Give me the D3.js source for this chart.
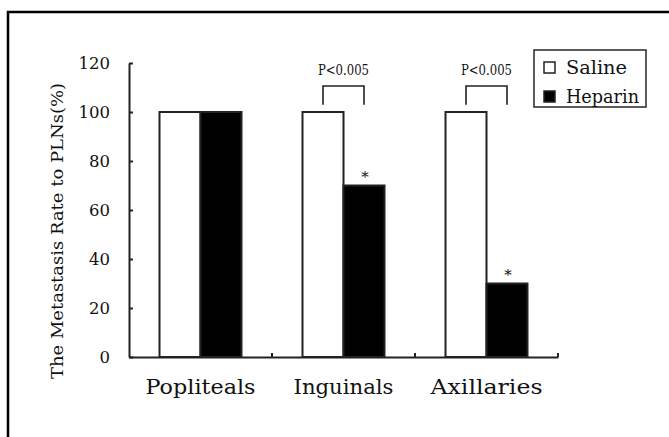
<!DOCTYPE html>
<html>
<head>
<meta charset="utf-8">
<script src="https://cdnjs.cloudflare.com/ajax/libs/d3/7.8.5/d3.min.js"></script>
<style>
  body { margin: 0; background: #fff; }
  svg text { font-family: "DejaVu Serif", "Liberation Serif", serif; fill: #111; }
</style>
</head>
<body>
<svg id="chart" width="669" height="437"></svg>
<script>
var categories = ["Popliteals", "Inguinals", "Axillaries"];
var series = ["Saline", "Heparin"];
var saline = [100, 100, 100];
var heparin = [100, 70, 30];
var yTicks = [0, 20, 40, 60, 80, 100, 120];
// significance brackets: which category, label
var sigCats = ["Inguinals", "Axillaries"];
var sigLabel = "P<0.005";
// measured label widths in the picture
var catWidths = [110, 100, 112];
var legendWidths = [61, 73];

var svg = d3.select("#chart");

// outer frame (only top/left edge visible in the picture)
svg.append("rect")
  .attr("x", 8).attr("y", 12)
  .attr("width", 700).attr("height", 500)
  .attr("fill", "none").attr("stroke", "#000").attr("stroke-width", 2.5);

var x0 = d3.scaleBand().domain(categories).range([129, 558]).padding(0);
var x1 = d3.scaleBand().domain(series).range([0, x0.bandwidth()])
  .paddingInner(0).paddingOuter(0.744);
var y = d3.scaleLinear().domain([0, 120]).range([357, 63]);

var rows = categories.map(function(c, i) {
  return { cat: c, values: [{ s: "Saline", v: saline[i] }, { s: "Heparin", v: heparin[i] }] };
});

var g = svg.append("g");

// bars
g.selectAll("g.grp")
  .data(rows)
  .enter().append("g")
  .attr("class", "grp")
  .attr("transform", function(d) { return "translate(" + x0(d.cat) + ",0)"; })
  .selectAll("rect")
  .data(function(d) { return d.values; })
  .enter().append("rect")
  .attr("x", function(d) { return x1(d.s); })
  .attr("y", function(d) { return y(d.v); })
  .attr("width", x1.bandwidth())
  .attr("height", function(d) { return y(0) - y(d.v); })
  .attr("fill", function(d) { return d.s === "Saline" ? "#fff" : "#000"; })
  .attr("stroke", "#222")
  .attr("stroke-width", 2);

// y axis
var yAxis = d3.axisLeft(y).tickValues(yTicks).tickSizeInner(-4).tickSizeOuter(0).tickPadding(19);
var ya = svg.append("g").attr("transform", "translate(129,0)").call(yAxis);
ya.select(".domain").attr("stroke", "#222").attr("stroke-width", 2);
ya.selectAll(".tick line").attr("stroke", "#222").attr("stroke-width", 2);
ya.selectAll(".tick text").style("font-size", "16.5px").attr("fill", "#111").attr("dy", "0.36em");

// x axis
var xAxis = d3.axisBottom(x0).tickSize(0).tickPadding(22);
var xa = svg.append("g").attr("transform", "translate(0,357)").call(xAxis);
xa.select(".domain").attr("stroke", "#222").attr("stroke-width", 2);
xa.selectAll(".tick text")
  .style("font-size", "21px").attr("fill", "#111")
  .attr("textLength", function(d, i) { return catWidths[i]; })
  .attr("lengthAdjust", "spacingAndGlyphs");

// x axis small ticks at group boundaries
svg.append("g").selectAll("line")
  .data(categories)
  .enter().append("line")
  .attr("x1", function(d) { return x0(d) + x0.bandwidth(); })
  .attr("x2", function(d) { return x0(d) + x0.bandwidth(); })
  .attr("y1", y(0)).attr("y2", y(0) - 4)
  .attr("stroke", "#222").attr("stroke-width", 2);

// y axis title
svg.append("text")
  .attr("transform", "translate(63,231) rotate(-90)")
  .attr("text-anchor", "middle")
  .attr("textLength", 296).attr("lengthAdjust", "spacingAndGlyphs")
  .style("font-size", "16.5px")
  .text("The Metastasis Rate to PLNs(%)");

// significance brackets
sigCats.forEach(function(c) {
  var xa_ = x0(c) + x1("Saline") + x1.bandwidth() / 2;
  var xb_ = x0(c) + x1("Heparin") + x1.bandwidth() / 2;
  svg.append("path")
    .attr("d", "M" + xa_ + "," + y(103) + "V" + y(110.6) + "H" + xb_ + "V" + y(103))
    .attr("fill", "none").attr("stroke", "#222").attr("stroke-width", 1.6);
  svg.append("text")
    .attr("x", (xa_ + xb_) / 2).attr("y", y(115))
    .attr("text-anchor", "middle")
    .attr("textLength", 51).attr("lengthAdjust", "spacingAndGlyphs")
    .style("font-size", "15px")
    .text(sigLabel);
  var i = categories.indexOf(c);
  svg.append("text")
    .attr("x", xb_ + 1).attr("y", y(heparin[i]) - 4)
    .attr("text-anchor", "middle")
    .style("font-size", "15px")
    .text("*");
});

// legend
var lg = svg.append("g");
lg.append("rect")
  .attr("x", 534).attr("y", 50).attr("width", 112).attr("height", 57)
  .attr("fill", "#fff").attr("stroke", "#333").attr("stroke-width", 1.6);
series.forEach(function(s, i) {
  lg.append("rect")
    .attr("x", 544).attr("y", 62 + i * 29).attr("width", 11).attr("height", 11)
    .attr("fill", s === "Saline" ? "#fff" : "#000")
    .attr("stroke", "#222").attr("stroke-width", 1.5);
  lg.append("text")
    .attr("x", 566).attr("y", 74 + i * 29)
    .attr("textLength", legendWidths[i]).attr("lengthAdjust", "spacingAndGlyphs")
    .style("font-size", "18.5px")
    .text(s);
});
</script>
</body>
</html>
